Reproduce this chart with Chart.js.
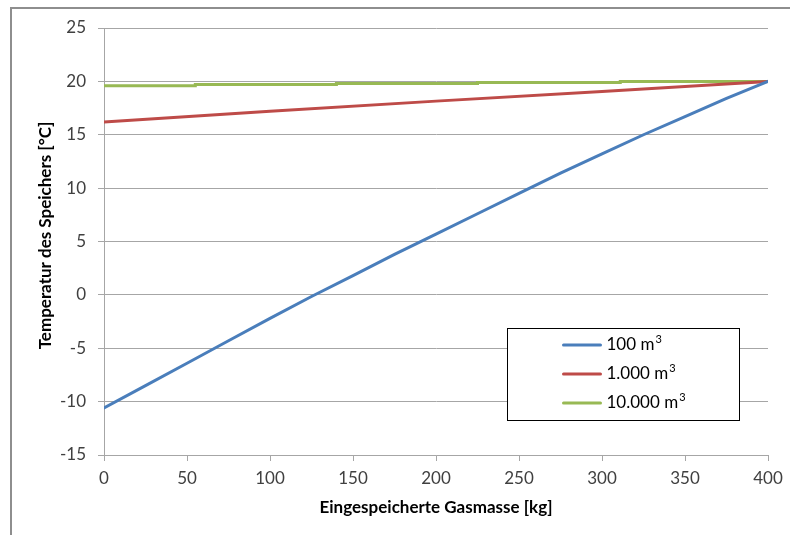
<!DOCTYPE html>
<html>
<head>
<meta charset="utf-8">
<script src="https://cdn.jsdelivr.net/npm/chart.js@4.4.1/dist/chart.umd.min.js"></script>
<style>
  html, body { margin: 0; padding: 0; background: #fff; }
  #wrap { position: relative; width: 790px; height: 535px; overflow: hidden; }
  #frame { position: absolute; left: 10px; top: 7px; width: 900px; height: 700px;
           border-left: 2px solid #8e8e8e; border-top: 2px solid #8e8e8e; }
  canvas { position: absolute; left: 0; top: 0; }
</style>
</head>
<body>
<div id="wrap">
  <div id="frame"></div>
  <canvas id="c" width="790" height="535"></canvas>
</div>
<script>
// ---- data ----
const seriesLabels = ['100 m³', '1.000 m³', '10.000 m³'];
const blueX = [0, 25, 50, 75, 100, 125, 150, 175, 200, 225, 250, 275, 300, 325, 350, 375, 400];
const blueY = [-10.6, -8.5, -6.4, -4.3, -2.2, -0.15, 1.8, 3.8, 5.7, 7.6, 9.5, 11.4, 13.2, 15.0, 16.7, 18.4, 20.0];
const redX = [0, 100, 200, 300, 400];
const redY = [16.2, 17.2, 18.15, 19.05, 20.0];
const greenX = [0, 55, 140, 225, 311, 400];
const greenY = [19.6, 19.7, 19.8, 19.9, 20.0, 20.0];
const xTicks = [0, 50, 100, 150, 200, 250, 300, 350, 400];
const yTicks = [-15, -10, -5, 0, 5, 10, 15, 20, 25];
const colors = ['#4a7ebb', '#be4b48', '#98b954'];

const FONT = 'Lato';
const pts = (xs, ys) => xs.map((x, i) => ({ x: x, y: ys[i] }));

const overlay = {
  id: 'overlay',
  afterDraw(chart) {
    const ctx = chart.ctx;
    const a = chart.chartArea;
    ctx.save();
    ctx.fillStyle = '#000';
    ctx.font = 'bold 17px ' + FONT;
    ctx.textAlign = 'center';
    ctx.textBaseline = 'middle';
    // x title
    ctx.fillText('Eingespeicherte Gasmasse [kg]', (a.left + a.right) / 2, 508);
    // y title
    ctx.save();
    ctx.translate(46, (a.top + a.bottom) / 2 - 6);
    ctx.rotate(-Math.PI / 2);
    ctx.fillText('Temperatur des Speichers [°C]', 0, 0);
    ctx.restore();
    // legend box
    const bx = a.left + 403.5, by = 328.5, bw = 232, bh = 92;
    ctx.fillStyle = '#fff';
    ctx.fillRect(bx, by, bw, bh);
    ctx.strokeStyle = '#000';
    ctx.lineWidth = 1;
    ctx.strokeRect(bx, by, bw, bh);
    ctx.textAlign = 'left';
    chart.data.datasets.forEach((ds, i) => {
      const y = 345 + 29 * i;
      ctx.strokeStyle = ds.borderColor;
      ctx.lineWidth = 3;
      ctx.lineCap = 'round';
      ctx.beginPath();
      ctx.moveTo(bx + 56, y);
      ctx.lineTo(bx + 93, y);
      ctx.stroke();
      ctx.fillStyle = '#000';
      const parts = ds.label.split('³');
      ctx.font = '17px ' + FONT;
      ctx.fillText(parts[0], bx + 99, y);
      if (ds.label.indexOf('³') >= 0) {
        const w = ctx.measureText(parts[0]).width;
        ctx.font = '11px ' + FONT;
        ctx.fillText('3', bx + 99 + w + 1, y - 6);
      }
    });
    ctx.restore();
  }
};

new Chart(document.getElementById('c'), {
  type: 'line',
  data: {
    datasets: [
      { label: seriesLabels[0], data: pts(blueX, blueY), borderColor: colors[0], borderWidth: 3, pointRadius: 0, borderCapStyle: 'round' },
      { label: seriesLabels[1], data: pts(redX, redY), borderColor: colors[1], borderWidth: 3, pointRadius: 0, borderCapStyle: 'round' },
      { label: seriesLabels[2], data: pts(greenX, greenY), borderColor: colors[2], borderWidth: 3, pointRadius: 0, stepped: true, borderCapStyle: 'round' }
    ]
  },
  options: {
    responsive: false,
    animation: false,
    events: [],
    layout: { padding: { left: 0, right: 22, top: 28, bottom: 0 } },
    plugins: { legend: { display: false }, tooltip: { enabled: false } },
    scales: {
      x: {
        type: 'linear', min: 0, max: 400,
        afterBuildTicks: s => { s.ticks = xTicks.map(v => ({ value: v })); },
        afterFit: s => { s.height = 80; },
        ticks: { color: '#404040', font: { family: FONT, size: 17 }, padding: 7, maxRotation: 0 },
        grid: { drawOnChartArea: false, drawTicks: true, tickLength: 6, color: '#a6a6a6' },
        border: { color: '#a6a6a6', width: 1 }
      },
      y: {
        min: -15, max: 25,
        afterBuildTicks: s => { s.ticks = yTicks.map(v => ({ value: v })); },
        afterFit: s => { s.width = 104; },
        ticks: { color: '#404040', font: { family: FONT, size: 17 }, padding: 12 },
        grid: { color: '#a6a6a6', tickLength: 6 },
        border: { color: '#a6a6a6', width: 1 }
      }
    }
  },
  plugins: [overlay]
});
</script>
</body>
</html>
